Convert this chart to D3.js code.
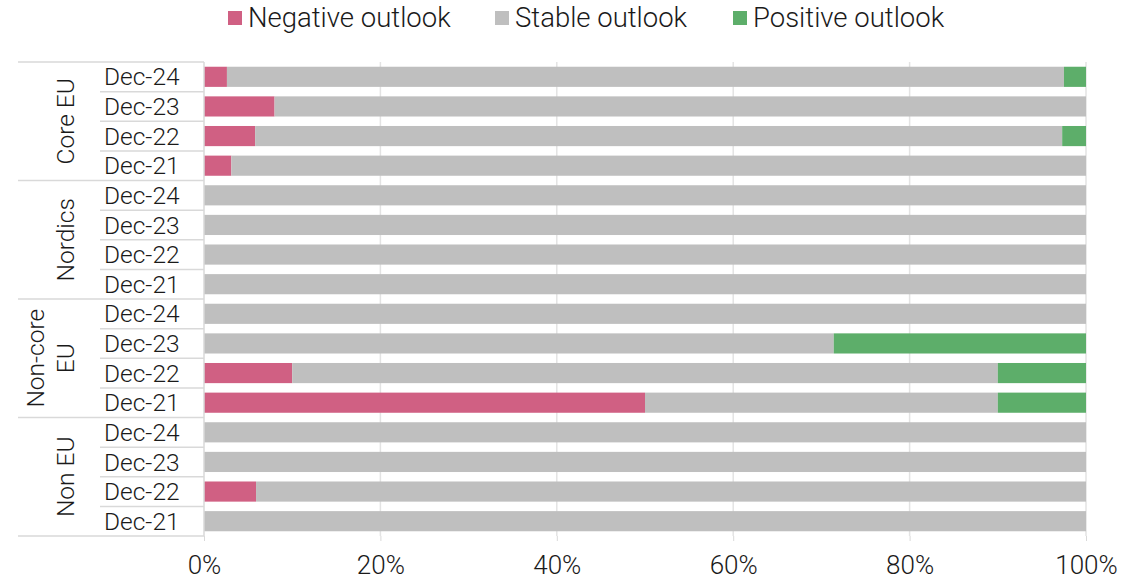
<!DOCTYPE html>
<html>
<head>
<meta charset="utf-8">
<script src="https://cdn.jsdelivr.net/npm/d3@7"></script>
<style>
  body { margin: 0; background: #fff; }
  svg text { font-family: "Roboto", sans-serif; font-weight: 300; fill: #1a1a1a; }
</style>
</head>
<body>
<div id="chart"></div>
<script>
// data, top row first
const groups = ['Core EU', 'Nordics', 'Non-core EU', 'Non EU'];
const periods = ['Dec-24', 'Dec-23', 'Dec-22', 'Dec-21'];
const seriesNames = ['Negative outlook', 'Stable outlook', 'Positive outlook'];
const seriesColors = ['#d06083', '#bfbfbf', '#5dae6a'];
// values per group, in periods order
const negative = [
    [2.6, 8.0, 5.8, 3.1],
    [0, 0, 0, 0],
    [0, 0, 10, 50],
    [0, 0, 5.9, 0]
];
const positive = [
    [2.5, 0, 2.7, 0],
    [0, 0, 0, 0],
    [0, 28.6, 10, 10],
    [0, 0, 0, 0]
];
const xTicks = [0, 20, 40, 60, 80, 100];

const width = 1147, height = 579;
const margin = { top: 62, right: 61, bottom: 43, left: 204 };

const rows = [];
groups.forEach((g, gi) => {
    periods.forEach((p, pi) => {
        const neg = negative[gi][pi], pos = positive[gi][pi];
        rows.push({ key: g + '|' + p, group: g, period: p, neg: neg, stable: 100 - neg - pos, pos: pos });
    });
});

const svg = d3.select('#chart').append('svg')
    .attr('width', width)
    .attr('height', height);

const x = d3.scaleLinear().domain([0, 100]).range([margin.left, width - margin.right]);
const y = d3.scaleBand().domain(rows.map(d => d.key))
    .range([margin.top, height - margin.bottom])
    .paddingInner(0.32).paddingOuter(0.16);

// gridlines
svg.append('g')
    .selectAll('line')
    .data(xTicks.slice(1))
    .join('line')
    .attr('x1', d => x(d)).attr('x2', d => x(d))
    .attr('y1', margin.top).attr('y2', height - margin.bottom)
    .attr('stroke', '#e3e3e3').attr('stroke-width', 1.5);

// stacked bars
const stack = d3.stack().keys(['neg', 'stable', 'pos']);
const layers = stack(rows);
svg.append('g')
    .selectAll('g')
    .data(layers)
    .join('g')
    .attr('fill', (d, i) => seriesColors[i])
    .selectAll('rect')
    .data(d => d)
    .join('rect')
    .attr('x', d => x(d[0]))
    .attr('width', d => x(d[1]) - x(d[0]))
    .attr('y', d => y(d.data.key))
    .attr('height', y.bandwidth());

// x axis
const xAxis = svg.append('g')
    .attr('transform', `translate(0,${height - margin.bottom})`)
    .call(d3.axisBottom(x).tickValues(xTicks).tickFormat(d => d + '%').tickSize(5).tickPadding(15));
xAxis.select('.domain').remove();
xAxis.selectAll('line').attr('stroke', '#d9d9d9');
xAxis.selectAll('text').style('font-size', '26px').attr('fill', '#1a1a1a');

// left category axis with group separators
const step = y.step();
const edge = k => y(k) - y.paddingInner() * step / 2;
const left = svg.append('g').attr('stroke', '#d9d9d9').attr('stroke-width', 1.5);
left.append('line')
    .attr('x1', margin.left).attr('x2', margin.left)
    .attr('y1', margin.top).attr('y2', height - margin.bottom);
rows.forEach((d, i) => {
    const first = i % periods.length === 0;
    left.append('line')
        .attr('x1', first ? 18 : 100).attr('x2', margin.left)
        .attr('y1', edge(d.key)).attr('y2', edge(d.key));
});
left.append('line')
    .attr('x1', 18).attr('x2', margin.left)
    .attr('y1', height - margin.bottom).attr('y2', height - margin.bottom);

svg.append('g')
    .selectAll('text')
    .data(rows)
    .join('text')
    .attr('x', 104)
    .attr('y', d => y(d.key) + y.bandwidth() / 2)
    .attr('dy', '0.35em')
    .style('font-size', '24.5px')
    .text(d => d.period);

const groupLines = { 'Non-core EU': ['Non-core', 'EU'] };
groups.forEach(g => {
    const ks = rows.filter(r => r.group === g).map(r => r.key);
    const cy = (edge(ks[0]) + edge(ks[ks.length - 1]) + step) / 2;
    const lines = groupLines[g] || [g];
    const t = svg.append('text')
        .attr('transform', `translate(65,${cy}) rotate(-90)`)
        .attr('text-anchor', 'middle')
        .style('font-size', '24.5px');
    lines.forEach((l, i) => {
        t.append('tspan')
            .attr('x', 0)
            .attr('y', (i - (lines.length - 1)) * 30)
            .attr('dy', '0.35em')
            .text(l);
    });
});

// legend
const legendX = [228, 495, 733];
const legend = svg.append('g');
seriesNames.forEach((name, i) => {
    legend.append('rect')
        .attr('x', legendX[i]).attr('y', 11)
        .attr('width', 14).attr('height', 14)
        .attr('fill', seriesColors[i]);
    legend.append('text')
        .attr('x', legendX[i] + 20).attr('y', 27)
        .style('font-size', '27.5px')
        .text(name);
});
</script>
</body>
</html>
